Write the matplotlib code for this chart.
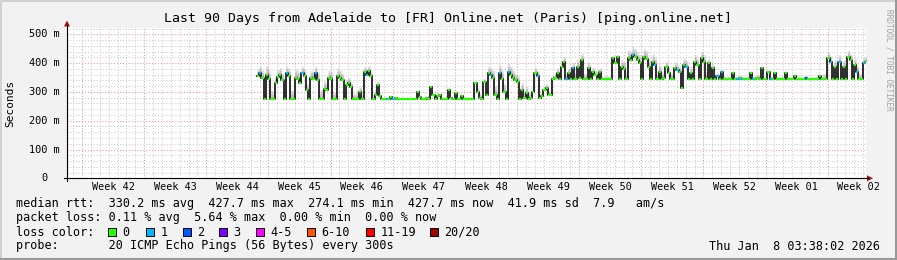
import numpy as np
import matplotlib
matplotlib.use('Agg')
import matplotlib.pyplot as plt
from matplotlib.transforms import blended_transform_factory
from matplotlib.patches import Rectangle, Polygon

W, H = 897, 260
MONO = 'DejaVu Sans Mono'

# ---- data -------------------------------------------------------------
# median rtt (ms), one sample every 6 h, first sample 21.4 days into the 90-day window
start_day = 21.4
step_day = 0.25
median_ms = [
    355, 364, 350, 275, 360, 345, 275, 275, 330, 352,
    358, 340, 275, 364, 355, 275, 275, 350, 345, 330,
    364, 355, 306, 275, 350, 345, 364, 340, 275, 275,
    310, 306, 350, 345, 275, 275, 355, 350, 340, 275,
    325, 330, 316, 275, 275, 275, 300, 275, 368, 360,
    372, 355, 275, 290, 323, 285, 275, 275, 275, 275,
    282, 275, 280, 275, 275, 275, 275, 275, 275, 275,
    275, 275, 300, 282, 275, 275, 280, 275, 316, 290,
    275, 285, 290, 275, 275, 275, 306, 280, 275, 295,
    275, 275, 285, 275, 275, 275, 275, 275, 330, 300,
    280, 275, 333, 290, 364, 358, 350, 290, 275, 364,
    345, 300, 275, 368, 360, 350, 340, 335, 275, 306,
    280, 295, 275, 278, 300, 364, 355, 280, 285, 306,
    312, 288, 290, 344, 350, 364, 344, 386, 403, 344,
    364, 344, 382, 344, 386, 350, 410, 345, 344, 382,
    345, 370, 360, 344, 368, 344, 344, 346, 344, 344,
    417, 400, 420, 346, 386, 380, 345, 417, 410, 427,
    420, 410, 400, 345, 420, 415, 386, 345, 403, 395,
    345, 370, 344, 350, 386, 364, 345, 346, 382, 375,
    370, 312, 392, 385, 345, 364, 345, 403, 392, 345,
    417, 405, 345, 400, 345, 382, 345, 355, 345, 368,
    345, 344, 346, 344, 364, 345, 344, 350, 345, 344,
    346, 345, 364, 344, 345, 350, 344, 382, 345, 344,
    368, 345, 344, 364, 345, 344, 346, 344, 364, 345,
    344, 346, 355, 344, 345, 344, 345, 350, 344, 346,
    344, 345, 344, 355, 345, 344, 346, 417, 405, 345,
    386, 345, 403, 345, 386, 345, 420, 410, 345, 392,
    368, 345, 346, 400, 405,
]
# samples with 1 or 2 lost pings
loss1_idx = [1, 13, 20, 26, 49, 58, 61, 105, 109, 113, 126, 139, 142, 169, 179,
             189, 193, 207, 209, 216, 218, 223, 231, 258, 262, 270, 273]
loss2_idx = [247]
# smoke height above the median (ms), one value per day, days 21..89
smoke_first_day = 21
smoke_ms = [25, 30, 25, 25, 30, 25, 25, 30, 25, 25, 20, 20,
            20, 15, 5,
            4, 4, 4, 5, 6, 6, 6, 5, 5, 5,
            15, 25, 30, 30, 25, 25, 20, 15, 15,
            20, 20, 25, 20, 15, 10, 10, 25, 30, 30, 30, 25, 20, 20, 25, 25, 25, 15, 10,
            8, 8, 8, 10, 8, 8, 8, 6, 6, 6, 8,
            20, 25, 25, 25, 20]

first_week_day = 1.69
week_names = ['Week 42', 'Week 43', 'Week 44', 'Week 45', 'Week 46', 'Week 47', 'Week 48',
              'Week 49', 'Week 50', 'Week 51', 'Week 52', 'Week 01', 'Week 02']
y_ticks = [0, 100, 200, 300, 400, 500]
y_tick_labels = ['0', '100 m', '200 m', '300 m', '400 m', '500 m']

title = 'Last 90 Days from Adelaide to [FR] Online.net (Paris) [ping.online.net]'
legend_rows = [
    'median rtt:  330.2 ms avg  427.7 ms max  274.1 ms min  427.7 ms now  41.9 ms sd  7.9   am/s',
    'packet loss: 0.11 % avg  5.64 % max  0.00 % min  0.00 % now',
    'loss color:',
    'probe:       20 ICMP Echo Pings (56 Bytes) every 300s',
]
loss_labels = ['0', '1', '2', '3', '4-5', '6-10', '11-19', '20/20']
loss_colors = ['#26ff00', '#00b8ff', '#0059ff', '#7e00ff', '#ff00ff', '#ff5500', '#ff0000', '#a10000']
stamp = 'Thu Jan  8 03:38:02 2026'

# ---- figure -----------------------------------------------------------
fig = plt.figure(figsize=(W / 100, H / 100), dpi=100, facecolor='#f2f2f2')

# overlay in pixel coordinates for the frame and text
fx = fig.add_axes([0, 0, 1, 1], zorder=5)
fx.set_xlim(0, W)
fx.set_ylim(H, 0)
fx.axis('off')
fx.patch.set_alpha(0)

ax = fig.add_axes([67 / W, (H - 178.3) / H, 799 / W, (178.3 - 28) / H])
ax.set_xlim(0, 90)
ax.set_ylim(0, 522)
ax.set_facecolor('white')
for s in ax.spines.values():
    s.set_visible(False)
ax.set_xticks([])
ax.set_yticks([])

# grid
dot = (0, (1, 2))
for v in range(20, 522, 20):
    if v % 100:
        ax.axhline(v, color='#c4c4c4', lw=0.7, ls=dot, zorder=1)
for v in y_ticks[1:]:
    ax.axhline(v, color='#f08a8a', lw=0.7, ls=dot, zorder=1)
for k in range(-1, 90):
    d = first_week_day + k
    if 0 < d < 90 and k % 7:
        ax.axvline(d, color='#c4c4c4', lw=0.7, ls=dot, zorder=1)
week_starts = [first_week_day + 7 * k for k in range(len(week_names))]
for d in week_starts:
    ax.axvline(d, color='#f08a8a', lw=0.7, ls=dot, zorder=1)

# series
med = np.array(median_ms, dtype=float)
n = len(med)
t = start_day + step_day * np.arange(n)
t_e = np.r_[t, t[-1] + step_day]
med_e = np.r_[med, med[-1]]
smk = np.array([smoke_ms[int(tt) - smoke_first_day] for tt in t], dtype=float)
smk_e = np.r_[smk, smk[-1]]

# smoke, darker close to the median
for f in (1.0, 0.66, 0.33):
    ax.fill_between(t_e, med_e, med_e + smk_e * f, step='post', color='#707070',
                    alpha=0.22, lw=0, zorder=2)

ax.step(t_e, med_e, where='post', color='#141414', lw=1.25, zorder=3)

loss_class = np.zeros(n, dtype=int)
loss_class[loss1_idx] = 1
loss_class[loss2_idx] = 2
ax.hlines(med, t, t + step_day, colors=[loss_colors[c] for c in loss_class],
          lw=1.6, zorder=4)

# axis lines + arrows
fx.plot([64, 868], [178.3, 178.3], color='black', lw=0.8)
fx.plot([67, 67], [181, 25], color='black', lw=0.8)
fx.add_patch(Polygon([(867, 175.3), (873, 178.3), (867, 181.3)], closed=True, color='#a01010', lw=0))
fx.add_patch(Polygon([(64, 26.5), (67, 20.5), (70, 26.5)], closed=True, color='#a01010', lw=0))

# tick labels
ytr = blended_transform_factory(fx.transData, ax.transData)
for v, lab in zip(y_ticks, y_tick_labels):
    xr = 60 if lab.endswith('m') else 47.5
    fx.text(xr, v, lab, transform=ytr, ha='right', va='center', family=MONO, fontsize=7.4)
xtr = blended_transform_factory(ax.transData, fx.transData)
for d, lab in zip(week_starts, week_names):
    fx.text(d + 3.5, 187.5, lab, transform=xtr, ha='center', va='center', family=MONO, fontsize=7.3)

fx.text(W / 2, 18.5, title, ha='center', va='center', family=MONO, fontsize=9.5)
fx.text(10.5, 103, 'Seconds', rotation=90, ha='center', va='center', family=MONO, fontsize=8)
fx.text(888.5, 60, 'RRDTOOL / TOBI OETIKER', rotation=-90, ha='center', va='center',
        family=MONO, fontsize=5.6, color='#a0a0a0')

# legend
for row, y in zip(legend_rows, [204, 218, 232, 246]):
    fx.text(16, y, row, ha='left', va='center', family=MONO, fontsize=8.45)
box_x = [108, 146, 183, 219, 256, 307, 366, 430]
for bx, col, lab in zip(box_x, loss_colors, loss_labels):
    fx.add_patch(Rectangle((bx, 228), 8, 8, facecolor=col, edgecolor='black', lw=0.7))
    fx.text(bx + 14.5, 232, lab, ha='left', va='center', family=MONO, fontsize=8.45)
fx.text(880, 246, stamp, ha='right', va='center', family=MONO, fontsize=8.45)

# 3d frame
fx.plot([0.5, 0.5, W - 1], [H - 1, 0.5, 0.5], color='#cbcbcb', lw=1.2)
fx.plot([1, W - 1, W - 1], [H - 1, H - 1, 1], color='#999999', lw=2.2)

fig.savefig('out.png', dpi=100, facecolor=fig.get_facecolor())
